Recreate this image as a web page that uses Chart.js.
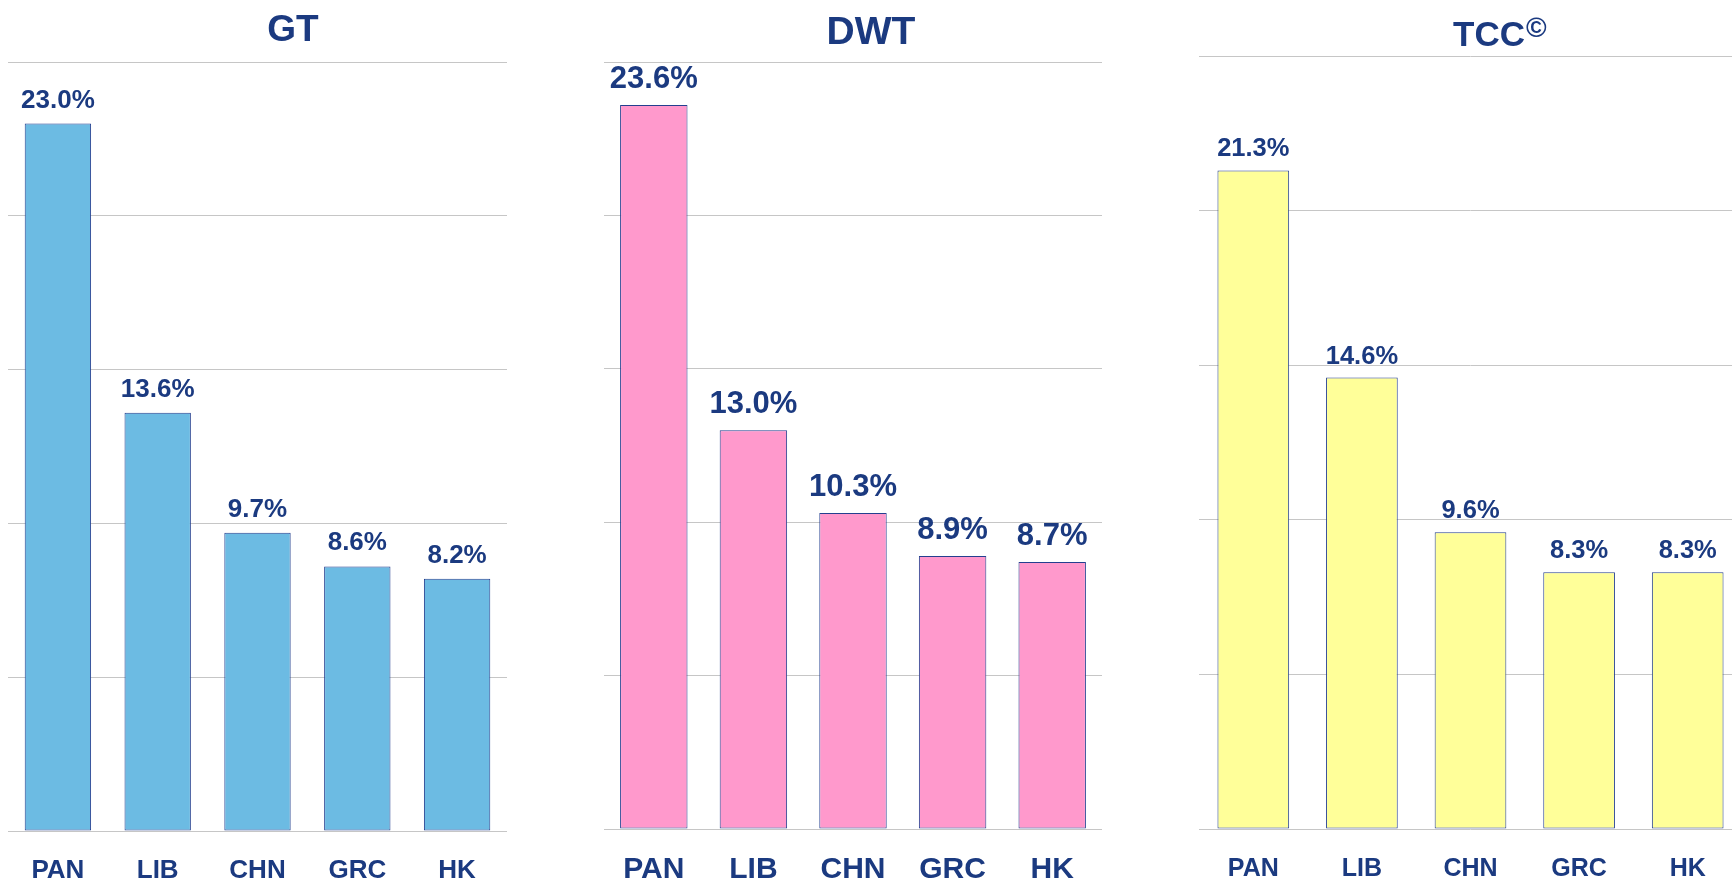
<!DOCTYPE html>
<html>
<head>
<meta charset="utf-8">
<script src="https://cdn.jsdelivr.net/npm/chart.js@4.4.0/dist/chart.umd.min.js"></script>
<style>
  html, body { margin: 0; padding: 0; background: #fff; }
  body { width: 1732px; height: 883px; position: relative; overflow: hidden; }
  canvas { position: absolute; top: 0; }
</style>
</head>
<body>
<canvas id="gtChart" width="540" height="883" style="left:0px"></canvas>
<canvas id="dwtChart" width="560" height="883" style="left:560px"></canvas>
<canvas id="tccChart" width="600" height="883" style="left:1160px"></canvas>

<script>
// --- data ---
const flags = ['PAN', 'LIB', 'CHN', 'GRC', 'HK'];
const gtShare = [23.0, 13.6, 9.7, 8.6, 8.2];
const dwtShare = [23.6, 13.0, 10.3, 8.9, 8.7];
const tccShare = [21.3, 14.6, 9.6, 8.3, 8.3];
const yMax = 25;
const yStep = 5;

const navy = '#1B3A80';
const fontFamily = '"Liberation Sans", Arial, sans-serif';

// draws the % labels above each bar and the chart heading
const labelPlugin = {
    id: 'barLabels',
    afterDatasetsDraw(chart, args, opts) {
        const ctx = chart.ctx;
        const meta = chart.getDatasetMeta(0);
        const values = chart.data.datasets[0].data;
        ctx.save();
        ctx.fillStyle = navy;
        ctx.textAlign = 'center';
        ctx.textBaseline = 'alphabetic';
        ctx.font = 'bold ' + opts.valueSize + 'px ' + fontFamily;
        meta.data.forEach((bar, i) => {
            ctx.fillText(values[i].toFixed(1) + '%', bar.x, bar.y - opts.valueGap);
        });

        // heading
        ctx.font = 'bold ' + opts.titleSize + 'px ' + fontFamily;
        if (opts.sup) {
            ctx.textAlign = 'left';
            const w = ctx.measureText(opts.title).width;
            const x0 = opts.titleX - w / 2;
            ctx.fillText(opts.title, x0, opts.titleY);
            ctx.font = 'bold ' + opts.supSize + 'px ' + fontFamily;
            ctx.fillText(opts.sup, x0 + w + 1, opts.supY);
        } else {
            ctx.fillText(opts.title, opts.titleX, opts.titleY);
        }
        ctx.restore();
    }
};

function makeChart(id, values, fill, cfg) {
    const ctx = document.getElementById(id).getContext('2d');
    return new Chart(ctx, {
        type: 'bar',
        data: {
            labels: flags,
            datasets: [{
                data: values,
                backgroundColor: fill,
                borderColor: '#243F8F',
                borderWidth: 1,
                borderSkipped: false,
                barPercentage: cfg.barPct,
                categoryPercentage: 1
            }]
        },
        options: {
            responsive: false,
            animation: false,
            devicePixelRatio: 1,
            layout: {
                padding: { left: cfg.left, right: cfg.right, top: cfg.top, bottom: 0 }
            },
            plugins: {
                legend: { display: false },
                tooltip: { enabled: false },
                barLabels: cfg.labels
            },
            scales: {
                x: {
                    grid: { display: false, drawTicks: false },
                    border: { display: false },
                    ticks: {
                        color: navy,
                        padding: cfg.tickPad,
                        font: { family: fontFamily, size: cfg.tickSize, weight: 'bold' }
                    },
                    afterFit: (scale) => { scale.height = cfg.xHeight; }
                },
                y: {
                    min: 0,
                    max: yMax,
                    ticks: { display: false, stepSize: yStep },
                    grid: { color: '#C6C6C6', lineWidth: 1, drawTicks: false },
                    border: { display: false },
                    afterFit: (scale) => { scale.width = 0; }
                }
            }
        },
        plugins: [labelPlugin]
    });
}

// --- GT ---
makeChart('gtChart', gtShare, '#6CBBE3', {
    left: 8, right: 33, top: 62, xHeight: 52, barPct: 0.665,
    tickPad: 24, tickSize: 26,
    labels: { valueSize: 26, valueGap: 16, title: 'GT', titleX: 293, titleY: 41, titleSize: 37 }
});

// --- DWT ---
makeChart('dwtChart', dwtShare, '#FF99CC', {
    left: 44, right: 18, top: 62, xHeight: 54, barPct: 0.677,
    tickPad: 23, tickSize: 30,
    labels: { valueSize: 31, valueGap: 17, title: 'DWT', titleX: 311, titleY: 44, titleSize: 39 }
});

// --- TCC ---
makeChart('tccChart', tccShare, '#FFFF99', {
    left: 39, right: 18, top: 56, xHeight: 54, barPct: 0.66,
    tickPad: 25, tickSize: 25,
    labels: { valueSize: 25.5, valueGap: 14, title: 'TCC', sup: '©', titleX: 329, titleY: 46, titleSize: 35, supSize: 28, supY: 37 }
});
</script>
</body>
</html>
